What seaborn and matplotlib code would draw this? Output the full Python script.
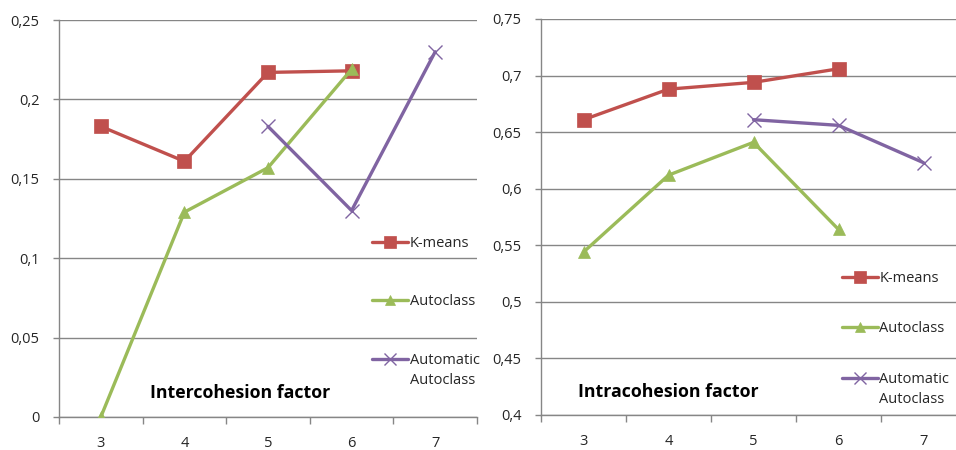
import matplotlib
matplotlib.use("Agg")
import matplotlib.pyplot as plt
import seaborn as sns
import pandas as pd
from matplotlib.lines import Line2D
from matplotlib.ticker import FixedLocator, FuncFormatter

# Number of clusters evaluated
clusters = [3, 4, 5, 6, 7]

# Intercohesion factor per method (None = not computed)
inter_kmeans = [0.183, 0.161, 0.217, 0.218, None]
inter_autoclass = [0.0, 0.129, 0.157, 0.219, None]
inter_auto_autoclass = [None, None, 0.183, 0.130, 0.230]

# Intracohesion factor per method
intra_kmeans = [0.661, 0.688, 0.694, 0.706, None]
intra_autoclass = [0.544, 0.612, 0.641, 0.564, None]
intra_auto_autoclass = [None, None, 0.661, 0.656, 0.623]

methods = ["K-means", "Autoclass", "Automatic Autoclass"]
legend_labels = ["K-means", "Autoclass", "Automatic"]
legend_extra = "Autoclass"
colors = {"K-means": "#C0504D", "Autoclass": "#9BBB59", "Automatic Autoclass": "#8064A2"}
markers = {"K-means": "s", "Autoclass": "^", "Automatic Autoclass": "x"}
msizes = {"K-means": 9.5, "Autoclass": 9, "Automatic Autoclass": 9.5}

inter_ticks = [0, 0.05, 0.1, 0.15, 0.2, 0.25]
intra_ticks = [0.4, 0.45, 0.5, 0.55, 0.6, 0.65, 0.7, 0.75]

sns.set_theme(style="white")
plt.rcParams["font.family"] = ["Open Sans", "DejaVu Sans"]

GRID = "#868686"
TEXT = "#262626"
FS = 10.5


def long_frame(series):
    rows = []
    for name, vals in zip(methods, series):
        for k, v in zip(clusters, vals):
            if v is not None:
                rows.append({"k": k, "value": v, "method": name})
    return pd.DataFrame(rows)


def comma(v, _):
    s = f"{v:.2f}".rstrip("0").rstrip(".")
    return s.replace(".", ",")


def draw_panel(ax, df, yticks, title, title_xy, leg_anchor, leg_spacing):
    for name in methods:
        sub = df[df["method"] == name]
        is_x = markers[name] == "x"
        sns.lineplot(data=sub, x="k", y="value", ax=ax, color=colors[name],
                     marker=markers[name], markersize=msizes[name],
                     markeredgecolor=colors[name],
                     markeredgewidth=1.0 if is_x else 0.5,
                     linewidth=2.4, legend=False, zorder=3)
    ax.set_xlim(clusters[0] - 0.5, clusters[-1] + 0.5)
    ax.set_ylim(yticks[0], yticks[-1])
    ax.set_xticks(clusters)
    ax.xaxis.set_minor_locator(FixedLocator([c - 0.5 for c in clusters] + [clusters[-1] + 0.5]))
    ax.set_yticks(yticks)
    ax.yaxis.set_major_formatter(FuncFormatter(comma))
    ax.set_xlabel("")
    ax.set_ylabel("")
    ax.grid(axis="y", color=GRID, linewidth=1.0)
    ax.grid(axis="x", visible=False)
    for side in ("top", "right"):
        ax.spines[side].set_visible(False)
    for side in ("left", "bottom"):
        ax.spines[side].set_color(GRID)
        ax.spines[side].set_linewidth(1.0)
    ax.tick_params(axis="x", which="major", length=0, pad=14, labelsize=FS, labelcolor=TEXT)
    ax.tick_params(axis="x", which="minor", bottom=True, length=5, width=1, color=GRID, direction="out")
    ax.tick_params(axis="y", which="major", left=True, length=4, width=1, color=GRID,
                   pad=10, labelsize=FS, labelcolor=TEXT)
    ax.text(title_xy[0], title_xy[1], title, transform=ax.transAxes,
            fontsize=12.8, fontweight="bold", color="black", va="center", ha="left")
    handles = [Line2D([], [], color=colors[m], marker=markers[m],
                      markersize=msizes[m] - 1.5, markeredgecolor=colors[m],
                      markeredgewidth=1.0 if markers[m] == "x" else 0.5,
                      linewidth=2.4) for m in methods]
    leg = ax.legend(handles, legend_labels, loc="upper left", bbox_to_anchor=leg_anchor,
                    frameon=False, fontsize=FS, handlelength=2.45, handletextpad=0.12,
                    labelspacing=leg_spacing, borderpad=0, borderaxespad=0,
                    labelcolor=TEXT)
    # second line of the last legend label, hung below the first line
    ax.annotate(legend_extra, xy=(0, 0), xycoords=leg.get_texts()[-1],
                xytext=(0, -5), textcoords="offset pixels",
                fontsize=FS, color=TEXT, ha="left", va="top", zorder=10)


fig = plt.figure(figsize=(9.56, 4.5), dpi=100)
ax1 = fig.add_axes([59 / 956, 1 - 417 / 450, 418 / 956, 397 / 450])
ax2 = fig.add_axes([541 / 956, 1 - 415 / 450, 425 / 956, 396 / 450])

draw_panel(ax1, long_frame([inter_kmeans, inter_autoclass, inter_auto_autoclass]),
           inter_ticks, "Intercohesion factor", (0.218, 0.06), (0.749, 0.456), 2.98)
draw_panel(ax2, long_frame([intra_kmeans, intra_autoclass, intra_auto_autoclass]),
           intra_ticks, "Intracohesion factor", (0.087, 0.058), (0.708, 0.364), 2.43)

fig.savefig("out.png", dpi=100)
